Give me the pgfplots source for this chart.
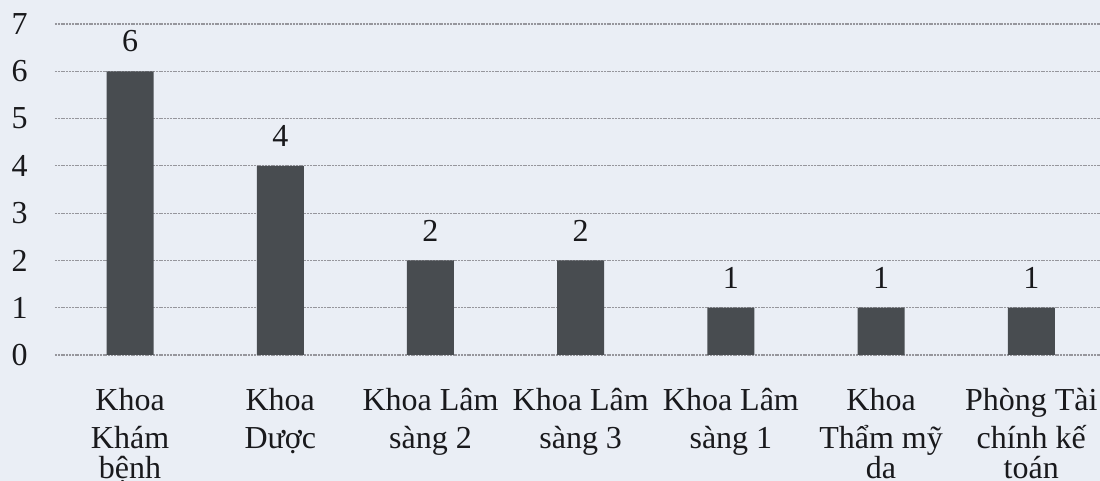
\documentclass[border=0pt]{standalone}
\usepackage{fontspec}
\setmainfont{Liberation Serif}
\usepackage{pgfplots}
\pgfplotsset{compat=1.18}
\definecolor{bg}{RGB}{234,238,245}
\definecolor{barc}{RGB}{72,76,80}
\definecolor{gridc}{RGB}{150,150,156}
\definecolor{txt}{RGB}{25,25,28}
\begin{document}
\begin{tikzpicture}
\fill[bg] (-27.5pt,-63pt) rectangle (522.5pt,177.5pt);
\clip (-27.5pt,-63pt) rectangle (522.5pt,177.5pt);
\begin{axis}[
  at={(0,0)}, anchor=south west,
  scale only axis, width=525.7pt, height=165.5pt,
  xmin=-0.5, xmax=6.5, ymin=0, ymax=7,
  ybar, bar width=23.5pt,
  axis line style={draw=none},
  tick style={draw=none},
  ymajorgrids,
  grid style={gridc, line width=0.6pt, dash pattern=on 1pt off 0.4pt},
  ytick={0,1,...,7},
  xtick={0,...,6},
  xticklabels={{Khoa\\Khám\\[-4pt]bệnh},{Khoa\\Dược},{Khoa Lâm\\sàng 2},{Khoa Lâm\\sàng 3},{Khoa Lâm\\sàng 1},{Khoa\\Thẩm mỹ\\[-4pt]da},{Phòng Tài\\chính kế\\[-4pt]toán}},
  /pgf/number format/assume math mode=true,
  yticklabel style={anchor=east, inner sep=0pt, xshift=-13.5pt, font=\fontsize{16}{19}\selectfont, text=txt},
  xticklabel style={anchor=north, inner sep=0pt, yshift=-12pt, align=center, font=\fontsize{16}{19}\selectfont, text=txt},
  nodes near coords,
  every node near coord/.append style={anchor=south, inner sep=0pt, yshift=9.5pt, font=\fontsize{16}{19}\selectfont, text=txt},
]
\addplot[fill=barc, draw=none] coordinates {(0,6) (1,4) (2,2) (3,2) (4,1) (5,1) (6,1)};
\end{axis}
\end{tikzpicture}
\end{document}
